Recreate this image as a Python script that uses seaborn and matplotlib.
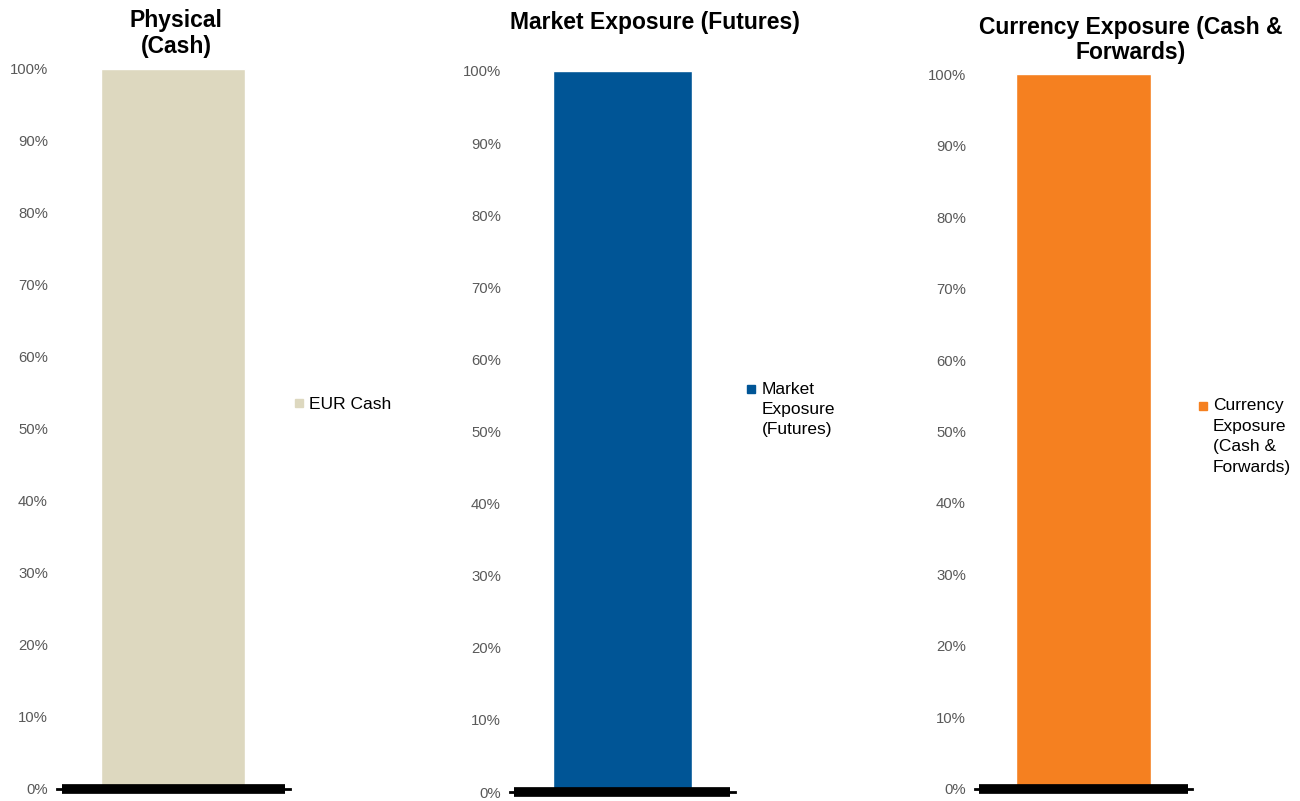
import matplotlib
matplotlib.use("Agg")
import matplotlib.pyplot as plt
import seaborn as sns
import pandas as pd
from matplotlib.ticker import PercentFormatter
from matplotlib.legend_handler import HandlerLine2D
from matplotlib.transforms import Affine2D

# Chart data
panel_titles = ["Physical\n(Cash)", "Market Exposure (Futures)", "Currency Exposure (Cash &\nForwards)"]
series_labels = ["EUR Cash", "Market\nExposure\n(Futures)", "Currency\nExposure\n(Cash &\nForwards)"]
series_values = [1.0, 1.0, 1.0]
series_colors = ["#DDD8BF", "#005596", "#F58020"]
y_ticks = [0.0, 0.1, 0.2, 0.3, 0.4, 0.5, 0.6, 0.7, 0.8, 0.9, 1.0]

sns.set_style("white")
plt.rcParams["font.family"] = ["Liberation Sans", "DejaVu Sans"]
plt.rcParams["text.color"] = "black"

LINE_STEP_PX = 20.5  # legend line step in pixels


class TopMarker(HandlerLine2D):
    """Put the legend square next to the first line of a multi-line label."""

    def __init__(self, shift, **kw):
        super().__init__(**kw)
        self.shift = shift

    def create_artists(self, legend, orig_handle, xdescent, ydescent, width, height,
                       fontsize, trans):
        arts = super().create_artists(legend, orig_handle, xdescent, ydescent,
                                      width, height, fontsize, trans)
        for a in arts:
            a.set_transform(trans + Affine2D().translate(0, self.shift))
        return arts


fig = plt.figure(figsize=(13, 8.01), dpi=100)

# layout of each small chart: axes rect, title pos, legend anchor
axes_rects = [
    [0.0438, 0.0150, 0.1790, 0.8990],
    [0.3923, 0.0112, 0.1730, 0.9002],
    [0.7500, 0.0150, 0.1670, 0.8926],
]
title_pos = [(0.1354, 0.958), (0.5035, 0.972), (0.8700, 0.950)]
legend_pos = [(0.226, 0.5045), (0.574, 0.5235), (0.921, 0.5025)]

for i in range(3):
    ax = fig.add_axes(axes_rects[i])
    df = pd.DataFrame({"cat": [series_labels[i]], "value": [series_values[i]]})
    sns.barplot(data=df, x="cat", y="value", hue="cat", palette=[series_colors[i]],
                width=0.62, ax=ax, legend=False, saturation=1)
    ax.set_xlim(-0.5, 0.5)
    ax.set_ylim(0, 1)
    ax.set_yticks(y_ticks)
    ax.yaxis.set_major_formatter(PercentFormatter(1.0, decimals=0))
    ax.tick_params(axis="y", length=0, pad=6.5, labelsize=10.7, labelcolor="#595959")
    ax.set_xticks([])
    ax.set_xlabel("")
    ax.set_ylabel("")
    for s in ["left", "right", "top"]:
        ax.spines[s].set_visible(False)
    ax.spines["bottom"].set_linewidth(2)
    ax.spines["bottom"].set_color("black")
    ax.axhline(0, xmin=0.02, xmax=0.98, color="black", lw=7, clip_on=False,
               solid_capstyle="butt")

    fig.text(title_pos[i][0], title_pos[i][1], panel_titles[i], ha="center", va="center",
             fontsize=16.5, fontweight="bold", linespacing=1.15, color="black")

    n_lines = series_labels[i].count("\n") + 1
    handle = plt.Line2D([], [], marker="s", color=series_colors[i], linestyle="",
                        markersize=6)
    leg = fig.legend([handle], [series_labels[i]], loc="upper left",
                     bbox_to_anchor=legend_pos[i], frameon=False, fontsize=12.5,
                     handlelength=0.6, handletextpad=0.3, borderpad=0, borderaxespad=0,
                     labelspacing=0,
                     handler_map={plt.Line2D: TopMarker((n_lines - 1) / 2 * LINE_STEP_PX)})
    for t in leg.get_texts():
        t.set_linespacing(1.45)
        t.set_color("black")

fig.savefig("out.png", dpi=100)
plt.close(fig)
